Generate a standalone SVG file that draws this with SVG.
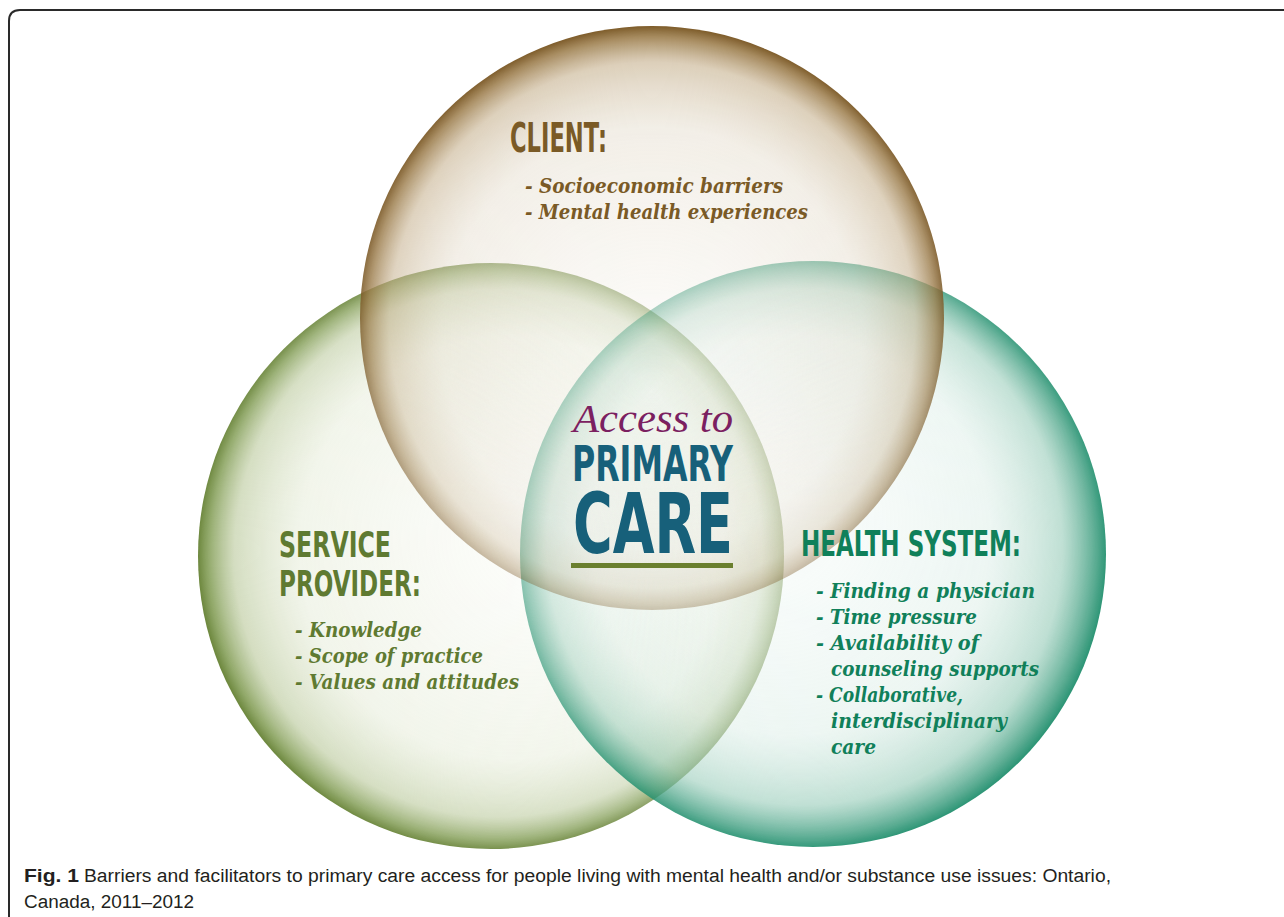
<svg xmlns="http://www.w3.org/2000/svg" width="1284" height="917" viewBox="0 0 1284 917">
<style>
.head{font-family:"DejaVu Sans","Liberation Sans",sans-serif;font-weight:bold}
.bul{font-family:"DejaVu Serif","Liberation Serif",serif;font-weight:bold;font-style:italic;font-size:20px}
.cap{font-family:"Liberation Sans",sans-serif;font-size:18px;fill:#231f20}
</style>
<defs>
<radialGradient id="gClient" cx="50%" cy="50%" r="50%" fx="50%" fy="62%">
<stop offset="0" stop-color="#e8e0d0" stop-opacity="0.1"/>
<stop offset="0.72" stop-color="#d9cdb6" stop-opacity="0.35"/>
<stop offset="0.9" stop-color="#c4ae8a" stop-opacity="0.6"/>
<stop offset="0.97" stop-color="#9c7d4c" stop-opacity="0.9"/>
<stop offset="1" stop-color="#7d5b29" stop-opacity="1"/>
</radialGradient>
<radialGradient id="gProv" cx="50%" cy="50%" r="50%" fx="62%" fy="45%">
<stop offset="0" stop-color="#e6ecd8" stop-opacity="0.1"/>
<stop offset="0.72" stop-color="#d6e0c0" stop-opacity="0.35"/>
<stop offset="0.9" stop-color="#b5c594" stop-opacity="0.6"/>
<stop offset="0.97" stop-color="#86a05a" stop-opacity="0.9"/>
<stop offset="1" stop-color="#6a853a" stop-opacity="1"/>
</radialGradient>
<radialGradient id="gHealth" cx="50%" cy="50%" r="50%" fx="38%" fy="40%">
<stop offset="0" stop-color="#d8ece5" stop-opacity="0.1"/>
<stop offset="0.68" stop-color="#c6e3d8" stop-opacity="0.35"/>
<stop offset="0.88" stop-color="#8cc6b1" stop-opacity="0.6"/>
<stop offset="0.97" stop-color="#3f9e80" stop-opacity="0.9"/>
<stop offset="1" stop-color="#23906f" stop-opacity="1"/>
</radialGradient>
<linearGradient id="fClient" x1="0" y1="0" x2="0" y2="1">
<stop offset="0" stop-color="#fff"/>
<stop offset="0.45" stop-color="#e0e0e0"/>
<stop offset="1" stop-color="#555"/>
</linearGradient>
<linearGradient id="fProv" x1="0" y1="0.7" x2="1" y2="0.3">
<stop offset="0" stop-color="#fff"/>
<stop offset="0.5" stop-color="#d8d8d8"/>
<stop offset="1" stop-color="#5a5a5a"/>
</linearGradient>
<linearGradient id="fHealth" x1="1" y1="0.9" x2="0" y2="0.1">
<stop offset="0" stop-color="#fff"/>
<stop offset="0.5" stop-color="#d8d8d8"/>
<stop offset="1" stop-color="#4a4a4a"/>
</linearGradient>
<mask id="mClient" maskUnits="userSpaceOnUse" x="358" y="24" width="588" height="588">
<rect x="358" y="24" width="588" height="588" fill="url(#fClient)"/>
</mask>
<mask id="mProv" maskUnits="userSpaceOnUse" x="196" y="261" width="590" height="590">
<rect x="196" y="261" width="590" height="590" fill="url(#fProv)"/>
</mask>
<mask id="mHealth" maskUnits="userSpaceOnUse" x="518" y="259" width="590" height="590">
<rect x="518" y="259" width="590" height="590" fill="url(#fHealth)"/>
</mask>
</defs>
<rect width="1284" height="917" fill="#ffffff"/>
<path d="M9,917 L9,21 Q9,10 20,10 L1284,10" fill="none" stroke="#2a2a2a" stroke-width="2"/>

<g id="circles">
<circle id="circle-provider" cx="491" cy="556" r="293" fill="url(#gProv)" mask="url(#mProv)"/>
<circle id="circle-health" cx="813" cy="554" r="293" fill="url(#gHealth)" mask="url(#mHealth)"/>
<circle id="circle-client" cx="652" cy="318" r="292" fill="url(#gClient)" mask="url(#mClient)"/>
</g>

<g id="client" fill="#7a5a26">
<text class="head" x="510" y="152" font-size="40" textLength="97" lengthAdjust="spacingAndGlyphs">CLIENT:</text>
<text class="bul" x="525" y="193" textLength="258" lengthAdjust="spacingAndGlyphs">- Socioeconomic barriers</text>
<text class="bul" x="525" y="219" textLength="283" lengthAdjust="spacingAndGlyphs">- Mental health experiences</text>
</g>

<g id="center">
<text x="573" y="432" font-family="Liberation Serif,serif" font-style="italic" font-size="41" fill="#7b2060" textLength="160" lengthAdjust="spacingAndGlyphs">Access to</text>
<text class="head" x="572" y="481" font-size="49" fill="#17607a" textLength="161" lengthAdjust="spacingAndGlyphs">PRIMARY</text>
<text class="head" x="573" y="553" font-size="84" fill="#17607a" textLength="160" lengthAdjust="spacingAndGlyphs">CARE</text>
<rect x="571" y="563" width="162" height="5" fill="#6a7f2e"/>
</g>

<g id="provider" fill="#5f7a31">
<text class="head" x="279" y="557" font-size="36" textLength="112" lengthAdjust="spacingAndGlyphs">SERVICE</text>
<text class="head" x="279" y="596" font-size="36" textLength="142" lengthAdjust="spacingAndGlyphs">PROVIDER:</text>
<text class="bul" x="295" y="637" textLength="127" lengthAdjust="spacingAndGlyphs">- Knowledge</text>
<text class="bul" x="295" y="663" textLength="188" lengthAdjust="spacingAndGlyphs">- Scope of practice</text>
<text class="bul" x="295" y="689" textLength="224" lengthAdjust="spacingAndGlyphs">- Values and attitudes</text>
</g>

<g id="health" fill="#10805a">
<text class="head" x="801" y="556" font-size="36" textLength="220" lengthAdjust="spacingAndGlyphs">HEALTH SYSTEM:</text>
<text class="bul" x="816" y="598" textLength="219" lengthAdjust="spacingAndGlyphs">- Finding a physician</text>
<text class="bul" x="816" y="624" textLength="161" lengthAdjust="spacingAndGlyphs">- Time pressure</text>
<text class="bul" x="816" y="650" textLength="163" lengthAdjust="spacingAndGlyphs">- Availability of</text>
<text class="bul" x="831" y="676" textLength="208" lengthAdjust="spacingAndGlyphs">counseling supports</text>
<text class="bul" x="816" y="702" textLength="147" lengthAdjust="spacingAndGlyphs">- Collaborative,</text>
<text class="bul" x="831" y="728" textLength="176" lengthAdjust="spacingAndGlyphs">interdisciplinary</text>
<text class="bul" x="831" y="754" textLength="45" lengthAdjust="spacingAndGlyphs">care</text>
</g>

<g id="caption">
<text class="cap" x="24" y="882" font-weight="bold" textLength="55" lengthAdjust="spacingAndGlyphs">Fig. 1</text>
<text class="cap" x="84" y="882" textLength="1027" lengthAdjust="spacingAndGlyphs">Barriers and facilitators to primary care access for people living with mental health and/or substance use issues: Ontario,</text>
<text class="cap" x="24" y="908" textLength="170" lengthAdjust="spacingAndGlyphs">Canada, 2011–2012</text>
</g>
</svg>
